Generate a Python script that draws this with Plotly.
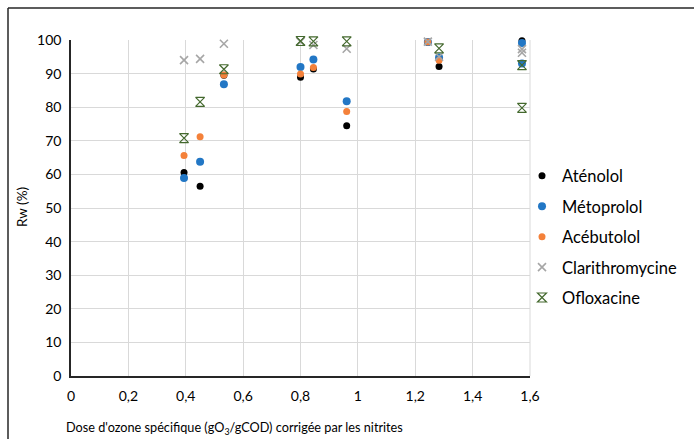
import plotly.graph_objects as go

# Data
aten_x = [0.394, 0.45, 0.533, 0.80, 0.845, 0.961, 1.244, 1.283, 1.572]
aten_y = [60.6, 56.5, 89.5, 88.9, 91.4, 74.5, 99.3, 92.1, 99.8]

meto_x = [0.394, 0.45, 0.533, 0.80, 0.845, 0.961, 1.244, 1.283, 1.572, 1.572]
meto_y = [58.9, 63.8, 86.8, 92.0, 94.2, 81.8, 99.4, 94.8, 99.1, 93.0]

aceb_x = [0.394, 0.45, 0.533, 0.80, 0.845, 0.961, 1.244, 1.283]
aceb_y = [65.6, 71.2, 89.6, 89.9, 91.8, 78.7, 99.4, 94.0]

clar_x = [0.394, 0.45, 0.533, 0.80, 0.845, 0.961, 1.244, 1.283, 1.572, 1.572]
clar_y = [94.0, 94.4, 98.9, 99.5, 98.5, 97.4, 99.5, 95.0, 97.3, 96.2]

oflo_x = [0.394, 0.45, 0.533, 0.80, 0.845, 0.961, 1.283, 1.572, 1.572]
oflo_y = [70.8, 81.6, 91.3, 99.7, 99.6, 99.6, 97.5, 92.5, 79.8]

x_ticks = [0, 0.2, 0.4, 0.6, 0.8, 1, 1.2, 1.4, 1.6]
x_tick_labels = ["0", "0,2", "0,4", "0,6", "0,8", "1", "1,2", "1,4", "1,6"]
y_ticks = [0, 10, 20, 30, 40, 50, 60, 70, 80, 90, 100]

FONT = "Lato"
GRAY = "#A6A6A6"
GREEN = "#44692E"

fig = go.Figure()
fig.add_trace(go.Scatter(x=aten_x, y=aten_y, mode="markers", name="Aténolol",
                         legendgroup="a", cliponaxis=False,
                         marker=dict(symbol="circle", size=7, color="#000000")))
fig.add_trace(go.Scatter(x=meto_x, y=meto_y, mode="markers", name="Métoprolol",
                         legendgroup="b", cliponaxis=False,
                         marker=dict(symbol="circle", size=8, color="#2277C5")))
fig.add_trace(go.Scatter(x=aceb_x, y=aceb_y, mode="markers", name="Acébutolol",
                         legendgroup="c", cliponaxis=False,
                         marker=dict(symbol="circle", size=7, color="#F4813A")))
fig.add_trace(go.Scatter(x=clar_x, y=clar_y, mode="markers", name="Clarithromycine",
                         legendgroup="d", cliponaxis=False,
                         marker=dict(symbol="x-thin-open", size=8, color=GRAY,
                                     line=dict(color=GRAY, width=1.6))))
fig.add_trace(go.Scatter(x=oflo_x, y=oflo_y, mode="markers", name="Ofloxacine",
                         legendgroup="e", cliponaxis=False,
                         marker=dict(symbol="hourglass-open", size=9, color=GREEN,
                                     line=dict(color=GREEN, width=1.2))))

L, R, T, B = 71, 164, 40, 63
W, H = 694, 439
pw, ph = W - L - R, H - T - B

def px_to_paper_x(px):
    return (px - L) / pw

def px_to_paper_y(py):
    return (H - B - py) / ph

fig.update_layout(
    width=W, height=H,
    margin=dict(l=L, r=R, t=T, b=B, pad=0, autoexpand=False),
    paper_bgcolor="white", plot_bgcolor="white",
    font=dict(family=FONT, size=14, color="#000000"),
    showlegend=True,
    legend=dict(x=px_to_paper_x(522), xanchor="left",
                y=px_to_paper_y(237), yanchor="middle",
                font=dict(family=FONT, size=16.5, color="#000000"),
                tracegroupgap=6, itemwidth=30, bgcolor="rgba(0,0,0,0)"),
    xaxis=dict(range=[0, 1.6], tickvals=x_ticks, ticktext=x_tick_labels,
               showgrid=True, gridcolor="#D9D9D9", gridwidth=1,
               showline=True, linecolor="#262626", linewidth=1.5,
               zeroline=False, ticks="", ticklabelstandoff=6,
               tickfont=dict(size=14)),
    yaxis=dict(range=[0, 100], tickvals=y_ticks,
               showgrid=True, gridcolor="#D9D9D9", gridwidth=1,
               showline=True, linecolor="#262626", linewidth=1.5,
               zeroline=False, ticks="", ticklabelstandoff=5,
               tickfont=dict(size=14)),
    shapes=[
        dict(type="line", xref="paper", yref="paper",
             x0=px_to_paper_x(8), y0=px_to_paper_y(8),
             x1=px_to_paper_x(700), y1=px_to_paper_y(8),
             line=dict(color="#262626", width=1.5)),
        dict(type="line", xref="paper", yref="paper",
             x0=px_to_paper_x(8), y0=px_to_paper_y(8),
             x1=px_to_paper_x(8), y1=px_to_paper_y(445),
             line=dict(color="#262626", width=1.5)),
        dict(type="line", xref="paper", yref="paper",
             x0=1, y0=0, x1=1, y1=1,
             line=dict(color="#D9D9D9", width=1), layer="below"),
    ],
    annotations=[
        dict(text="Dose d'ozone spécifique (gO<sub>3</sub>/gCOD) corrigée par les nitrites",
             xref="paper", yref="paper", x=px_to_paper_x(234), y=px_to_paper_y(428),
             xanchor="center", yanchor="middle", showarrow=False,
             font=dict(family=FONT, size=12.7)),
        dict(text="Rw (%)", textangle=-90,
             xref="paper", yref="paper", x=px_to_paper_x(22), y=px_to_paper_y(207),
             xanchor="center", yanchor="middle", showarrow=False,
             font=dict(family=FONT, size=13.5)),
    ],
)

fig.write_html("out.html",
               config={"displayModeBar": False},
               post_script="document.body.style.margin='0';document.body.style.overflow='hidden';")
